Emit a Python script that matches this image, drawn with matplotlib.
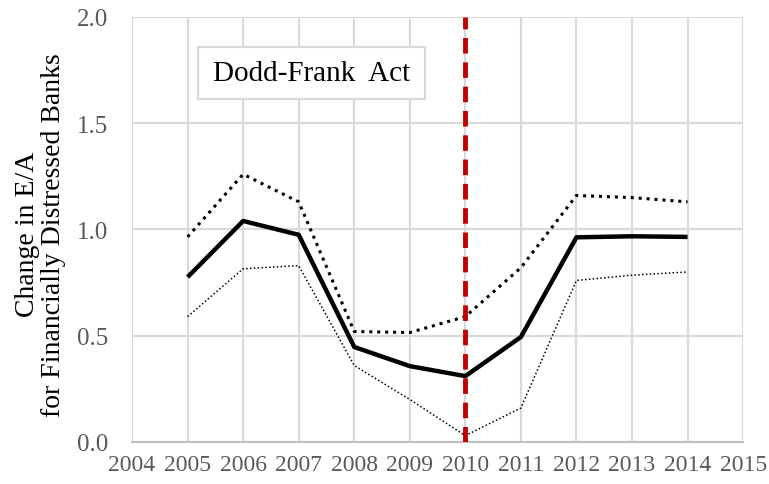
import numpy as np
import matplotlib.pyplot as plt
from matplotlib.patches import Rectangle

years = [2005, 2006, 2007, 2008, 2009, 2010, 2011, 2012, 2013, 2014]
mean_ea = [0.776, 1.04, 0.975, 0.447, 0.357, 0.31, 0.494, 0.963, 0.968, 0.965]
upper_ea = [0.965, 1.26, 1.13, 0.52, 0.515, 0.59, 0.82, 1.16, 1.15, 1.13]
lower_ea = [0.59, 0.815, 0.83, 0.36, 0.20, 0.03, 0.16, 0.76, 0.785, 0.80]
act_year = 2010

plt.rcParams['font.family'] = ['Liberation Serif', 'DejaVu Serif']

fig = plt.figure(figsize=(7.69, 4.85), dpi=100)
ax = fig.add_axes([0.1717, 0.0866, 0.7946, 0.8764])

ax.plot(years, upper_ea, color='black', lw=2.2, linestyle=(0, (1, 1.6)))
ax.plot(years, lower_ea, color='black', lw=1.1, linestyle=(0, (1, 1.5)))
ax.plot(years, mean_ea, color='black', lw=3.2, solid_capstyle='butt')
ax.axvline(act_year, color='#c00000', lw=3.5, linestyle=(0, (3.2, 1.8)), zorder=5)

ax.set_xlim(2004, 2015)
ax.set_ylim(0, 2.0)
ax.set_xticks(range(2004, 2016))
ax.set_yticks(np.arange(0, 2.01, 0.5))
ax.yaxis.set_major_formatter(plt.FormatStrFormatter('%.1f'))
ax.grid(True, color='#d9d9d9', lw=1.5)
ax.set_axisbelow(True)
for s in ['top', 'right', 'left']:
    ax.spines[s].set_visible(False)
ax.spines['bottom'].set_color('#bfbfbf')
ax.spines['bottom'].set_linewidth(1.5)
ax.tick_params(length=0, labelsize=17, colors='#595959', pad=9)
ax.tick_params(axis='y', labelsize=18, pad=17)

ax.set_ylabel('Change in E/A\nfor Financially Distressed Banks', fontsize=20,
              color='black', linespacing=1.05)
ax.yaxis.set_label_coords(-0.108, 0.49)

# annotation box
ax.add_patch(Rectangle((0.108, 0.807), 0.3715, 0.122, transform=ax.transAxes,
                       fc='white', ec='#d9d9d9', lw=1.5, zorder=6))
ax.text(0.293, 0.868, 'Dodd-Frank  Act', transform=ax.transAxes, fontsize=21,
        ha='center', va='center', zorder=7)

fig.savefig('out.png', dpi=100)
